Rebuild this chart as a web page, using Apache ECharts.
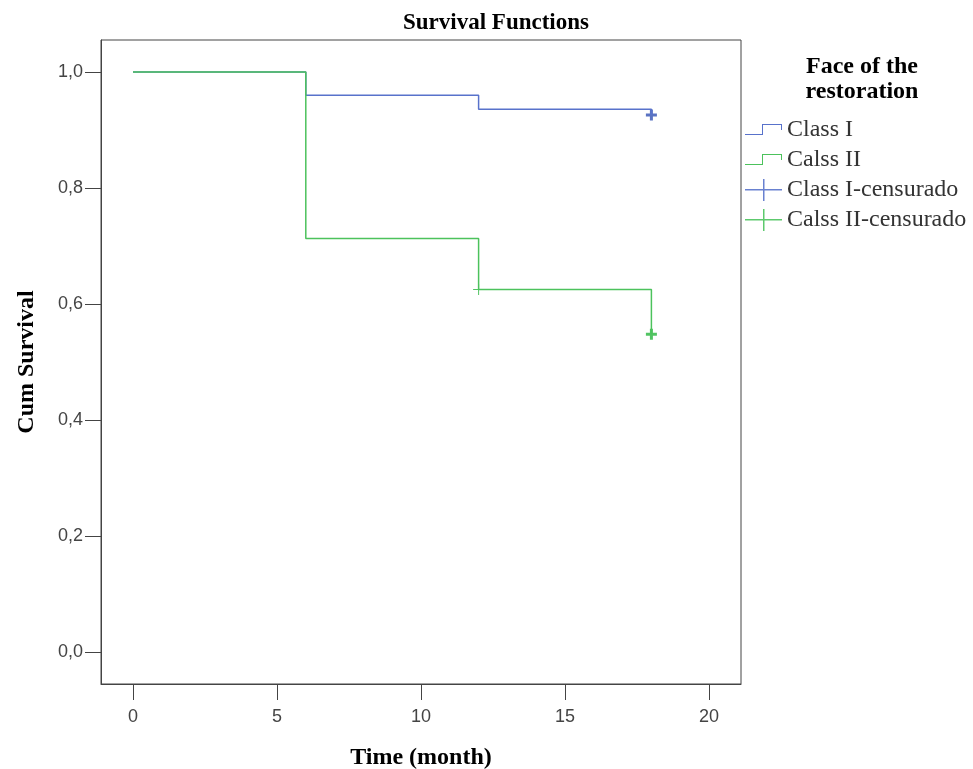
<!DOCTYPE html>
<html>
    <head>
        <meta charset="utf-8">
        <script src="https://cdn.jsdelivr.net/npm/echarts@6/dist/echarts.min.js"></script>
        <style>
            html, body {
                margin: 0;
                padding: 0;
                background: #fff;
            }
            #main {
                width: 973px;
                height: 769px;
            }
        </style>
    </head>
    <body>
        <div id="main"></div>

        <script>

            // step points (time in months, cumulative survival)
            var classITime = [0, 6, 12, 18];
            var classISurv = [1.0, 0.96, 0.936, 0.926];
            var classIITime = [0, 6, 12, 18];
            var classIISurv = [1.0, 0.713, 0.625, 0.548];

            // censored marks
            var classICensTime = [18];
            var classICensSurv = [0.926];
            var classIICensTime = [12, 18];
            var classIICensSurv = [0.625, 0.548];

            var xTicks = [0, 5, 10, 15, 20];
            var yTicks = [0, 0.2, 0.4, 0.6, 0.8, 1.0];

            var blue = '#5872cb';
            var green = '#4cc25c';
            var blueMark = '#3150b3';
            var greenMark = '#27b53c';

            var plusBold = 'path://M4,0H7V4H11V7H7V11H4V7H0V4H4Z';
            var plusThin = 'path://M5,0H6V5H11V6H6V11H5V6H0V5H5Z';
            var stepIcon = 'path://M0,0L0,0Z M37,22L37,22Z M0,15H18V16H0Z M17,5H18V16H17Z M17,5H37V6H17Z M36,5H37V11H36Z';
            var plusIcon = 'path://M0,10H37V11.5H0Z M18,0H19.5V22H18Z';

            function pairs(xs, ys) {
                return xs.map(function (x, i) { return [x, ys[i]]; });
            }

            var chart = echarts.init(document.getElementById('main'));

            var serif = 'Liberation Serif';

            option = {
                animation: false,
                backgroundColor: '#fff',
                title: [{
                    text: 'Survival Functions',
                    left: 491,
                    top: 7,
                    textAlign: 'center',
                    textStyle: {
                        fontFamily: serif,
                        fontWeight: 'bold',
                        fontSize: 23,
                        color: '#000'
                    }
                }, {
                    text: 'Face of the\nrestoration',
                    left: 857,
                    top: 49,
                    textAlign: 'center',
                    textStyle: {
                        fontFamily: serif,
                        fontWeight: 'bold',
                        fontSize: 24,
                        lineHeight: 25,
                        color: '#000'
                    }
                }],
                legend: {
                    orient: 'vertical',
                    left: 745,
                    top: 118,
                    padding: 0,
                    itemWidth: 37,
                    itemHeight: 22,
                    itemGap: 6,
                    symbolKeepAspect: false,
                    itemStyle: { borderWidth: 0 },
                    textStyle: {
                        fontFamily: serif,
                        fontSize: 24,
                        color: '#333'
                    },
                    data: [
                        { name: 'Class I', icon: stepIcon, itemStyle: { color: blue, borderWidth: 0 } },
                        { name: 'Calss II', icon: stepIcon, itemStyle: { color: green, borderWidth: 0 } },
                        { name: 'Class I-censurado', icon: plusIcon, itemStyle: { color: '#4462c4', borderWidth: 0 } },
                        { name: 'Calss II-censurado', icon: plusIcon, itemStyle: { color: '#35bb48', borderWidth: 0 } }
                    ]
                },
                grid: {
                    left: 101,
                    right: 232,
                    top: 40,
                    bottom: 85,
                    outerBoundsMode: 'none',
                    show: true,
                    borderColor: '#444',
                    borderWidth: 1
                },
                xAxis: {
                    type: 'value',
                    min: -1.111,
                    max: 21.111,
                    name: 'Time (month)',
                    nameLocation: 'middle',
                    nameGap: 62,
                    nameTextStyle: {
                        fontFamily: serif,
                        fontWeight: 'bold',
                        fontSize: 24,
                        color: '#000'
                    },
                    axisLine: { onZero: false, lineStyle: { color: '#444', width: 1 } },
                    axisTick: {
                        length: 16,
                        customValues: xTicks,
                        lineStyle: { color: '#444' }
                    },
                    axisLabel: {
                        customValues: xTicks,
                        margin: 24,
                        fontFamily: 'Liberation Sans',
                        fontSize: 18,
                        color: '#444'
                    },
                    splitLine: { show: false }
                },
                yAxis: {
                    type: 'value',
                    min: -0.0553,
                    max: 1.0553,
                    name: 'Cum Survival',
                    nameLocation: 'middle',
                    nameGap: 62,
                    nameTextStyle: {
                        fontFamily: serif,
                        fontWeight: 'bold',
                        fontSize: 24,
                        color: '#000'
                    },
                    axisLine: { onZero: false, lineStyle: { color: '#444', width: 1 } },
                    axisTick: {
                        length: 16,
                        customValues: yTicks,
                        lineStyle: { color: '#444' }
                    },
                    axisLabel: {
                        customValues: yTicks,
                        margin: 18,
                        fontFamily: 'Liberation Sans',
                        fontSize: 18,
                        color: '#444',
                        formatter: function (v) {
                            return v.toFixed(1).replace('.', ',');
                        }
                    },
                    splitLine: { show: false }
                },
                series: [{
                    name: 'Class I',
                    type: 'line',
                    step: 'end',
                    showSymbol: false,
                    symbol: 'none',
                    itemStyle: { color: blue },
                    lineStyle: { color: blue, width: 1.5 },
                    data: pairs(classITime, classISurv)
                }, {
                    name: 'Calss II',
                    type: 'line',
                    step: 'end',
                    showSymbol: false,
                    symbol: 'none',
                    itemStyle: { color: green },
                    lineStyle: { color: green, width: 1.5 },
                    data: pairs(classIITime, classIISurv)
                }, {
                    name: 'Class I-censurado',
                    type: 'scatter',
                    itemStyle: { color: blueMark },
                    symbol: plusBold,
                    symbolSize: 11,
                    data: pairs(classICensTime, classICensSurv)
                }, {
                    name: 'Calss II-censurado',
                    type: 'scatter',
                    itemStyle: { color: greenMark },
                    symbolSize: 11,
                    data: pairs(classIICensTime, classIICensSurv).map(function (p, i) {
                        return { value: p, symbol: i === 0 ? plusThin : plusBold };
                    })
                }]
            };

            chart.setOption(option);

        </script>
    </body>
</html>
